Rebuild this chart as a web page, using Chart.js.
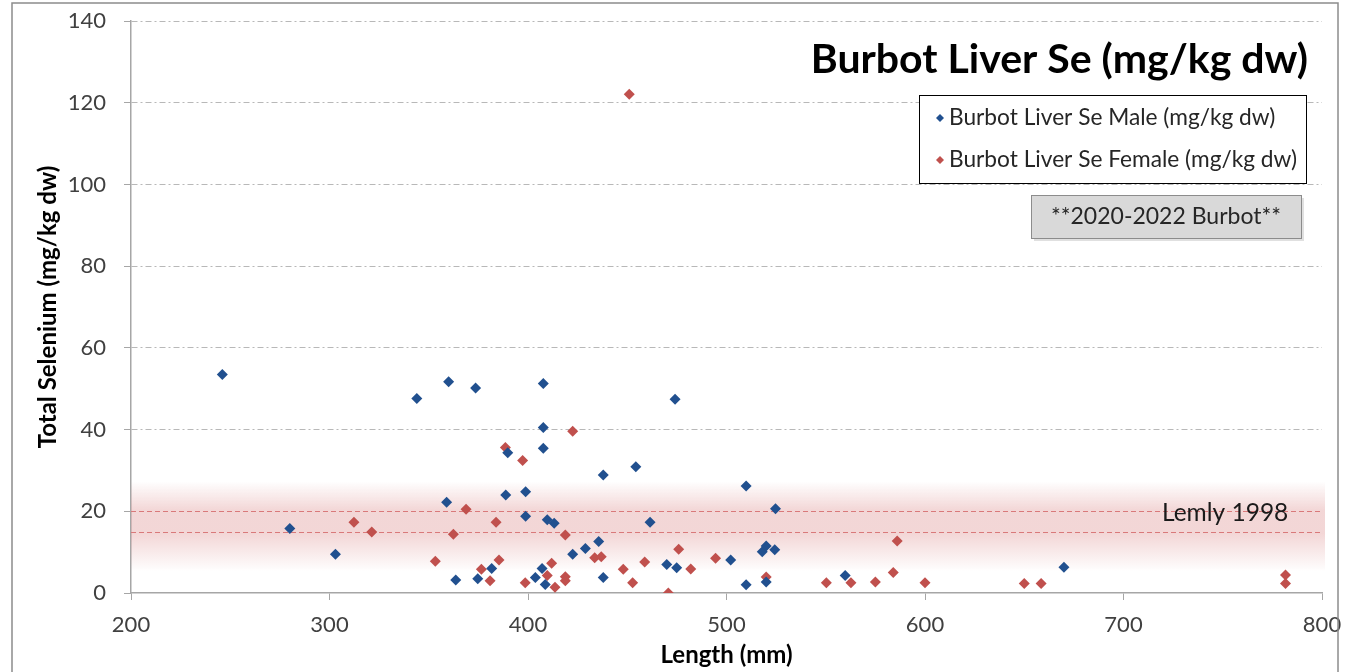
<!DOCTYPE html>
<html>
<head>
<meta charset="utf-8">
<script src="https://cdn.jsdelivr.net/npm/chart.js@4"></script>
<style>
  html, body { margin: 0; padding: 0; background: #fff; }
  #wrap { position: relative; width: 1345px; height: 672px; }
</style>
</head>
<body>
<div id="wrap"><canvas id="chart" width="1345" height="672"></canvas></div>
<script>
// values
const maleLength = [246, 280, 303, 344, 359, 360, 363.6, 373.6, 374.7, 381.7, 388.8, 389.8, 398.8, 398.8,
  403.7, 407.7, 407.7, 407.7, 407.1, 408.7, 409.7, 413.2, 422.5, 428.9, 435.6, 437.9, 437.9, 454.3,
  461.5, 469.9, 474.1, 474.9, 502.1, 509.9, 509.9, 518, 520, 524.3, 524.7, 520, 559.8, 670];
const maleSe = [53.5, 15.8, 9.5, 47.6, 22.2, 51.7, 3.2, 50.2, 3.5, 6.0, 24.0, 34.3, 24.8, 18.8,
  3.8, 51.3, 40.5, 35.4, 6.0, 2.1, 17.9, 17.1, 9.5, 10.9, 12.6, 28.9, 3.8, 30.9,
  17.3, 7.0, 47.4, 6.2, 8.1, 26.2, 2.0, 10.1, 11.5, 10.6, 20.6, 2.7, 4.3, 6.3];

const femaleLength = [312.3, 321.3, 353.3, 362.4, 368.8, 376.5, 380.9, 383.9, 385.4, 388.6, 397.3, 398.6,
  409.7, 411.9, 413.6, 418.8, 418.8, 418.8, 422.5, 433.6, 436.9, 448, 451, 452.7, 458.8, 470.7, 475.9,
  482, 494.5, 520, 550.3, 562.7, 575, 584, 586, 600, 650, 658.5, 781.6, 781.6];
const femaleSe = [17.3, 14.9, 7.8, 14.4, 20.5, 5.8, 3.0, 17.3, 8.1, 35.6, 32.4, 2.5,
  4.3, 7.3, 1.4, 14.2, 4.0, 3.0, 39.6, 8.6, 8.9, 5.8, 122.1, 2.5, 7.6, 0.0, 10.7,
  5.9, 8.5, 3.9, 2.5, 2.5, 2.7, 5.0, 12.7, 2.5, 2.3, 2.3, 4.4, 2.3];

const xMin = 200, xMax = 800, xStep = 100;
const yMin = 0, yMax = 140, yStep = 20;
const lemlyUpper = 20;
const lemlyLower = 15;
const lemlyLabel = "Lemly 1998";

const chartTitle = "Burbot Liver Se (mg/kg dw)";
const maleLabel = "Burbot Liver Se Male (mg/kg dw)";
const femaleLabel = "Burbot Liver Se Female (mg/kg dw)";
const noteLabel = "**2020-2022 Burbot**";

const FONT = "Lato, 'Open Sans', sans-serif";
const BLUE = "#21508F";
const RED = "#C0504D";
const GRID = "#B8B8B8";

const toPoints = (xs, ys) => xs.map((x, i) => ({ x, y: ys[i] }));

function diamond(ctx, x, y, r, color) {
  ctx.save();
  ctx.fillStyle = color;
  ctx.beginPath();
  ctx.moveTo(x, y - r);
  ctx.lineTo(x + r, y);
  ctx.lineTo(x, y + r);
  ctx.lineTo(x - r, y);
  ctx.closePath();
  ctx.fill();
  ctx.restore();
}

// pink Lemly band behind the points
const lemlyBand = {
  id: "lemlyBand",
  beforeDatasetsDraw(chart) {
    const { ctx, chartArea, scales: { y } } = chart;
    const yUp = y.getPixelForValue(lemlyUpper);
    const yLo = y.getPixelForValue(lemlyLower);
    const top = yUp - 30;
    const bottom = yLo + 40;
    ctx.save();
    const g = ctx.createLinearGradient(0, top, 0, bottom);
    g.addColorStop(0, "rgba(214,120,120,0)");
    g.addColorStop(0.32, "rgba(214,120,120,0.30)");
    g.addColorStop(0.58, "rgba(214,120,120,0.30)");
    g.addColorStop(1, "rgba(214,120,120,0)");
    ctx.fillStyle = g;
    ctx.fillRect(chartArea.left, top, chartArea.right - chartArea.left + 3, bottom - top);

    ctx.strokeStyle = "#D9797A";
    ctx.lineWidth = 1.2;
    ctx.setLineDash([5, 3]);
    [yUp, yLo].forEach((py) => {
      ctx.beginPath();
      ctx.moveTo(chartArea.left, Math.round(py) + 0.5);
      ctx.lineTo(chartArea.right, Math.round(py) + 0.5);
      ctx.stroke();
    });
    ctx.restore();
  },
};

// title, legend box, note box, band label and outer frame
const overlay = {
  id: "overlay",
  afterDraw(chart) {
    const { ctx, scales: { y } } = chart;
    ctx.save();

    ctx.strokeStyle = "#8C8C8C";
    ctx.lineWidth = 1.5;
    ctx.strokeRect(12, 3, 1326, 700);

    ctx.fillStyle = "#000";
    ctx.font = `bold 41px ${FONT}`;
    ctx.textAlign = "right";
    ctx.textBaseline = "alphabetic";
    ctx.fillText(chartTitle, 1308, 73);

    // legend
    ctx.fillStyle = "#fff";
    ctx.fillRect(919, 95, 387, 88);
    ctx.strokeStyle = "#000";
    ctx.lineWidth = 1;
    ctx.strokeRect(919.5, 95.5, 387, 88);
    ctx.font = `22.7px ${FONT}`;
    ctx.textAlign = "left";
    ctx.textBaseline = "middle";
    [[maleLabel, BLUE, 118], [femaleLabel, RED, 160]].forEach(([text, color, py]) => {
      diamond(ctx, 940, py, 4, color);
      ctx.fillStyle = "#262626";
      ctx.fillText(text, 949, py);
    });

    // note box
    ctx.fillStyle = "rgba(0,0,0,0.12)";
    ctx.fillRect(1034, 198, 270, 43);
    ctx.fillStyle = "#D9D9D9";
    ctx.fillRect(1031, 195, 270, 43);
    ctx.strokeStyle = "#8C8C8C";
    ctx.strokeRect(1031.5, 195.5, 270, 43);
    ctx.fillStyle = "#262626";
    ctx.font = `23px ${FONT}`;
    ctx.textAlign = "center";
    ctx.fillText(noteLabel, 1166, 217);

    // band label
    ctx.font = `24.5px ${FONT}`;
    ctx.textAlign = "left";
    ctx.textBaseline = "alphabetic";
    ctx.fillStyle = "#1A1A1A";
    ctx.fillText(lemlyLabel, 1162, y.getPixelForValue(lemlyUpper) + 10);
    ctx.restore();
  },
};

new Chart(document.getElementById("chart"), {
  type: "scatter",
  data: {
    datasets: [
      {
        label: maleLabel,
        data: toPoints(maleLength, maleSe),
        pointStyle: "rectRot",
        pointRadius: 5.5,
        pointHoverRadius: 5.5,
        backgroundColor: BLUE,
        borderColor: BLUE,
        borderWidth: 0,
      },
      {
        label: femaleLabel,
        data: toPoints(femaleLength, femaleSe),
        pointStyle: "rectRot",
        pointRadius: 5.5,
        pointHoverRadius: 5.5,
        backgroundColor: RED,
        borderColor: RED,
        borderWidth: 0,
      },
    ],
  },
  options: {
    responsive: false,
    animation: false,
    layout: { padding: { left: 0, right: 23, top: 21, bottom: 0 } },
    plugins: {
      legend: { display: false },
      tooltip: { enabled: false },
    },
    scales: {
      x: {
        type: "linear",
        min: xMin,
        max: xMax,
        afterFit: (scale) => {
          scale.height = 79;
          scale.paddingLeft = 0;
          scale.paddingRight = 0;
        },
        ticks: { stepSize: xStep, padding: 12, color: "#404040", font: { family: FONT, size: 22 } },
        grid: { drawOnChartArea: false, drawTicks: true, tickLength: 7, tickColor: "#A6A6A6" },
        border: { color: "#A6A6A6", width: 1.5 },
        title: {
          display: true,
          text: "Length (mm)",
          color: "#000",
          font: { family: FONT, size: 24, weight: "bold" },
          padding: { top: 0, bottom: 2 },
        },
      },
      y: {
        min: yMin,
        max: yMax,
        afterFit: (scale) => {
          scale.width = 131;
          scale.paddingTop = 0;
          scale.paddingBottom = 0;
        },
        ticks: { stepSize: yStep, padding: 18, color: "#404040", font: { family: FONT, size: 22 } },
        grid: {
          color: (c) => (c.tick && (c.tick.value === lemlyUpper || c.tick.value === yMin) ? "rgba(0,0,0,0)" : GRID),
          lineWidth: 1,
          tickLength: 7,
          tickColor: "#A6A6A6",
        },
        border: { color: "#A6A6A6", width: 1.5, dash: [6, 3, 2, 3] },
        title: {
          display: true,
          text: "Total Selenium (mg/kg dw)",
          color: "#000",
          font: { family: FONT, size: 24, weight: "bold" },
          padding: { top: 34, bottom: 0 },
        },
      },
    },
  },
  plugins: [lemlyBand, overlay],
});
</script>
</body>
</html>
